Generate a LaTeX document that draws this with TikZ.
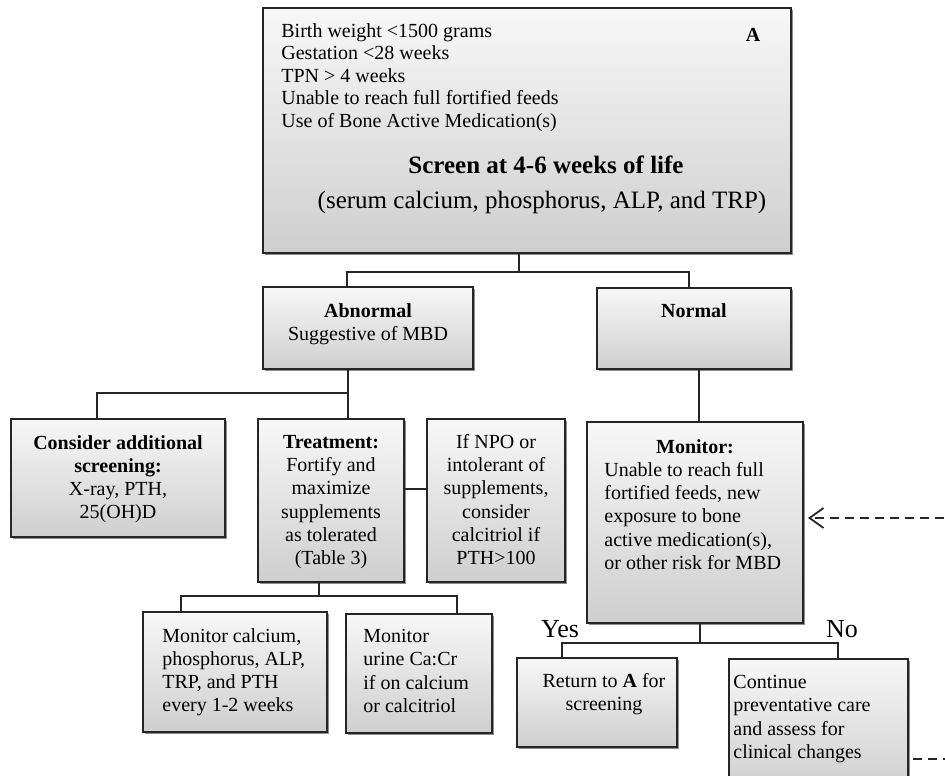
\documentclass[tikz,border=0pt]{standalone}
\usepackage{fontspec}
\setmainfont{Liberation Serif}
\usetikzlibrary{shadows,arrows.meta}

\tikzset{
  box/.style={rectangle, draw=black!85, line width=1pt, inner sep=0pt,
    top color=gray!6, bottom color=gray!38,
    drop shadow={shadow xshift=1.2pt, shadow yshift=-1.2pt, fill=black!45, opacity=1}},
  txt/.style={inner sep=0pt, font=\fontsize{10}{11.6}\selectfont},
  conn/.style={draw=black!85, line width=0.9pt},
  loopback/.style={conn, dash pattern=on 4.5pt off 3pt, -{Straight Barb[length=7pt,width=10pt]}}
}

\begin{document}
\begin{tikzpicture}[x=0.5pt, y=-0.5pt]
\useasboundingbox (0,0) rectangle (945,775);
\clip (0,0) rectangle (945,775);

% boxes
\node[box, minimum width=264pt, minimum height=122.5pt] (top) at (527,130.5) {};
\node[box, minimum width=105pt, minimum height=41pt] (abn) at (368,328) {};
\node[box, minimum width=97pt, minimum height=40.5pt] (norm) at (694,328.5) {};
\node[box, minimum width=107pt, minimum height=59pt] (cons) at (118,478) {};
\node[box, minimum width=73pt, minimum height=81.5pt] (treat) at (331,500.5) {};
\node[box, minimum width=69pt, minimum height=81.5pt] (npo) at (496,500.5) {};
\node[box, minimum width=108pt, minimum height=100.5pt] (mon) at (695,522.5) {};
\node[box, minimum width=92pt, minimum height=60pt] (labs) at (235,672) {};
\node[box, minimum width=73pt, minimum height=59.5pt] (urine) at (419,673.5) {};
\node[box, minimum width=80pt, minimum height=44.5pt] (ret) at (597,702.5) {};
\node[box, minimum width=89.5pt, minimum height=65.5pt] (cont) at (818.5,724.5) {};

% texts
\node[txt, anchor=north west, align=left, font=\fontsize{10}{11.25}\selectfont] (crit) at (281,23)
  {Birth weight <1500 grams\\Gestation <28 weeks\\TPN > 4 weeks\\Unable to reach full fortified feeds\\Use of Bone Active Medication(s)};
\node[txt, font=\bfseries] (lblA) at (753,35) {A};
\node[txt, anchor=base, font=\fontsize{12.5}{15}\selectfont\bfseries] (scr) at (546,173) {Screen at 4-6 weeks of life};
\node[txt, anchor=base, font=\fontsize{12.5}{15}\selectfont] (panel) at (542,208) {(serum calcium, phosphorus, ALP, and TRP)};
\node[txt, anchor=north, align=center] (abnt) at (368,303) {\textbf{Abnormal}\\Suggestive of MBD};
\node[txt, anchor=north] (normt) at (694,303) {\textbf{Normal}};
\node[txt, anchor=north, align=center] (const) at (118,435) {\textbf{Consider additional}\\\textbf{screening:}\\X-ray, PTH,\\25(OH)D};
\node[txt, anchor=north, align=center] (treatt) at (331,435) {\textbf{Treatment:}\\Fortify and\\maximize\\supplements\\as tolerated\\(Table 3)};
\node[txt, anchor=north, align=center] (npot) at (496,434) {If NPO or\\intolerant of\\supplements,\\consider\\calcitriol if\\PTH>100};
\node[txt, anchor=north] (mont) at (695,439) {\textbf{Monitor:}};
\node[txt, anchor=north west, align=left] (monb) at (604,462) {Unable to reach full\\fortified feeds, new\\exposure to bone\\active medication(s),\\or other risk for MBD};
\node[txt, anchor=north west, align=left] (labst) at (162,628) {Monitor calcium,\\phosphorus, ALP,\\TRP, and PTH\\every 1-2 weeks};
\node[txt, anchor=north west, align=left] (urinet) at (363,629) {Monitor\\urine Ca:Cr\\if on calcium\\or calcitriol};
\node[txt, anchor=north, align=center] (rett) at (604,673) {Return to \textbf{A} for\\screening};
\node[txt, anchor=north west, align=left] (contt) at (733,675) {Continue\\preventative care\\and assess for\\clinical changes};
\node[txt, anchor=base, font=\fontsize{13}{15}\selectfont] (yes) at (560,637) {Yes};
\node[txt, anchor=base, font=\fontsize{13}{15}\selectfont] (no) at (842,637) {No};

% connectors
\draw[conn] ([xshift=-4pt]top.south) -- ++(0,18) -| ([xshift=-10.5pt]abn.north);
\draw[conn] ([xshift=-4pt]top.south) -- ++(0,18) -| ([xshift=-2.5pt]norm.north);
\draw[conn] ([xshift=-10pt]abn.south) -- ([xshift=-10pt]abn.south |- treat.north);
\draw[conn] ([xshift=-10pt,yshift=-11.5pt]abn.south) -| ([xshift=-10.5pt]cons.north);
\draw[conn] ([yshift=5.75pt]treat.east) -- ([yshift=5.75pt]npo.west);
\draw[conn] ([xshift=-6pt]treat.south) -- ++(0,13) -| ([xshift=-27pt]labs.north);
\draw[conn] ([xshift=-6pt]treat.south) -- ++(0,13) -| ([xshift=19pt]urine.north);
\draw[conn] ([xshift=2.5pt]norm.south) -- ([xshift=2.5pt]norm.south |- mon.north);
\draw[conn] ([xshift=2.5pt]mon.south) -- ++(0,19) -| ([xshift=-17.5pt]ret.north);
\draw[conn] ([xshift=2.5pt]mon.south) -- ++(0,19) -| ([xshift=9.75pt]cont.north);
\draw[loopback] ([xshift=2pt,yshift=-17.25pt]cont.east) -- ++(60,0) |- ([xshift=2pt,yshift=2.25pt]mon.east);
\end{tikzpicture}
\end{document}
